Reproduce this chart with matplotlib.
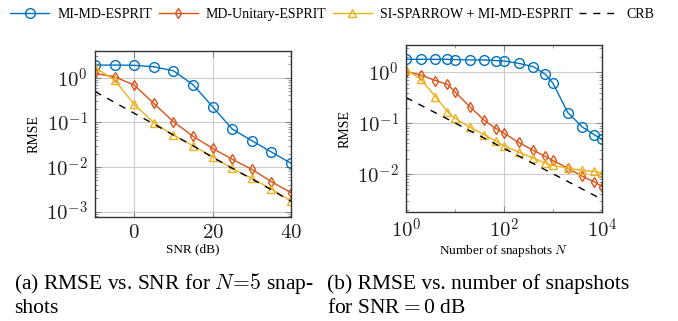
import matplotlib
matplotlib.use("Agg")
import matplotlib.pyplot as plt
from matplotlib.ticker import LogLocator, FixedLocator, NullFormatter

plt.rcParams["font.family"] = ["Liberation Serif", "DejaVu Serif"]
plt.rcParams["mathtext.fontset"] = "cm"

# (a) RMSE vs SNR, N = 5
snr = [-10, -5, 0, 5, 10, 15, 20, 25, 30, 35, 40]
snr_mi = [1.92, 1.92, 1.90, 1.76, 1.43, 0.70, 0.224, 0.071, 0.039, 0.0217, 0.0121]
snr_unitary = [1.25, 1.05, 0.685, 0.266, 0.1035, 0.049, 0.0262, 0.0149, 0.0089, 0.0047, 0.00266]
snr_sparrow = [1.70, 0.887, 0.253, 0.098, 0.052, 0.030, 0.017, 0.0093, 0.0056, 0.0032, 0.00174]
snr_crb = [0.49, 0.28, 0.16, 0.092, 0.052, 0.030, 0.0165, 0.0094, 0.0054, 0.0031, 0.0017]

# (b) RMSE vs number of snapshots, SNR = 0 dB
snaps = [1, 2, 4, 7, 10, 20, 40, 70, 100, 200, 400, 700, 1000, 2000, 4000, 7000, 10000]
n_mi = [1.80, 1.80, 1.80, 1.80, 1.78, 1.75, 1.75, 1.70, 1.67, 1.50, 1.29, 0.91, 0.61, 0.162, 0.0835, 0.059, 0.0486]
n_unitary = [1.03, 0.887, 0.687, 0.582, 0.411, 0.212, 0.113, 0.0774, 0.0637, 0.0418, 0.0291, 0.0222, 0.0185, 0.0131, 0.0090, 0.0070, 0.0057]
n_sparrow = [1.15, 0.729, 0.333, 0.169, 0.125, 0.0835, 0.059, 0.0437, 0.036, 0.027, 0.0206, 0.0164, 0.0148, 0.0131, 0.0118, 0.0113, 0.0105]
n_crb = [0.32, 0.226, 0.16, 0.121, 0.101, 0.0716, 0.0506, 0.0382, 0.032, 0.0226, 0.016, 0.0121, 0.0101, 0.00716, 0.00506, 0.00382, 0.0032]

labels = ["MI-MD-ESPRIT", "MD-Unitary-ESPRIT", "SI-SPARROW + MI-MD-ESPRIT", "CRB"]
BLUE, ORANGE, YELLOW = "#0072BD", "#D95319", "#EDB120"


def draw(ax, x, mi, uni, spa, crb):
    ax.plot(x, mi, color=BLUE, lw=1.0, marker="o", ms=7, mfc="none", mew=1.0)
    ax.plot(x, uni, color=ORANGE, lw=1.0, marker="d", ms=5.5, mfc="none", mew=1.0)
    ax.plot(x, spa, color=YELLOW, lw=1.0, marker="^", ms=6, mfc="none", mew=1.0)
    ax.plot(x, crb, color="black", lw=1.0, ls=(0, (5, 5)))
    ax.set_yscale("log")
    ax.grid(True, which="major", color="#cccccc", lw=0.8)
    ax.set_axisbelow(True)
    ax.yaxis.set_minor_locator(LogLocator(base=10, subs=range(2, 10), numticks=20))
    ax.yaxis.set_minor_formatter(NullFormatter())
    ax.tick_params(which="both", direction="in", top=True, right=True, colors="#888888",
                   labelcolor="#222222", labelsize=15, pad=5)
    ax.tick_params(which="major", length=4)
    ax.tick_params(which="minor", length=2.5)
    for s in ax.spines.values():
        s.set_color("#333333")
        s.set_linewidth(1.0)
    ax.set_ylabel("RMSE", fontsize=10, labelpad=4)


fig = plt.figure(figsize=(6.78, 3.21), dpi=100)
ax1 = fig.add_axes([0.1401, 0.324, 0.2891, 0.517])
ax2 = fig.add_axes([0.5988, 0.3396, 0.2891, 0.520])

draw(ax1, snr, snr_mi, snr_unitary, snr_sparrow, snr_crb)
ax1.set_xlim(-10, 40)
ax1.set_ylim(7.6e-4, 3.96)
ax1.xaxis.set_major_locator(FixedLocator([0, 20, 40]))
ax1.set_xticklabels(["$0$", "$20$", "$40$"])
ax1.yaxis.set_major_locator(FixedLocator([1e-3, 1e-2, 1e-1, 1]))
ax1.set_yticklabels(["$10^{-3}$", "$10^{-2}$", "$10^{-1}$", "$10^{0}$"])
ax1.set_xlabel("SNR (dB)", fontsize=9.5, labelpad=0)

draw(ax2, snaps, n_mi, n_unitary, n_sparrow, n_crb)
ax2.set_xscale("log")
ax2.set_xlim(1, 1e4)
ax2.set_ylim(0.0018, 3.43)
ax2.xaxis.set_major_locator(FixedLocator([1, 1e2, 1e4]))
ax2.set_xticklabels(["$10^{0}$", "$10^{2}$", "$10^{4}$"])
ax2.xaxis.set_minor_locator(FixedLocator([10, 1e3]))
ax2.xaxis.set_minor_formatter(NullFormatter())
ax2.yaxis.set_major_locator(FixedLocator([1e-2, 1e-1, 1]))
ax2.set_yticklabels(["$10^{-2}$", "$10^{-1}$", "$10^{0}$"])
ax2.set_xlabel("Number of snapshots $N$", fontsize=9.5, labelpad=0)

handles = ax1.get_lines()[:4]
fig.legend(handles, labels, loc="upper center", bbox_to_anchor=(0.49, 1.015), ncol=4,
           frameon=False, fontsize=10, handlelength=2.8, columnspacing=0.45,
           handletextpad=0.6)

cap = 15.5
fig.text(0.021, 1 - 289 / 321, "(a) RMSE vs. SNR for $N\\!=\\!5$ snap-", fontsize=cap)
fig.text(0.021, 1 - 313 / 321, "shots", fontsize=cap)
fig.text(0.483, 1 - 289 / 321, "(b) RMSE vs. number of snapshots", fontsize=cap)
fig.text(0.483, 1 - 313 / 321, "for SNR$=$0 dB", fontsize=cap)

fig.savefig("out.png", dpi=100)
